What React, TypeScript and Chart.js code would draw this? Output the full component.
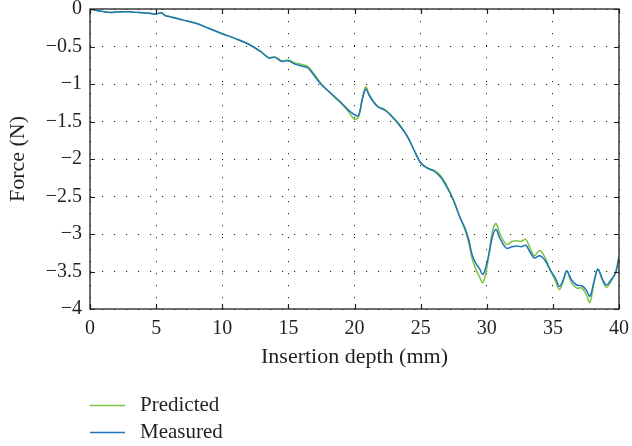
import React, { useEffect, useRef } from "react";
import { Chart, registerables } from "chart.js";

Chart.register(...registerables);

const depth = [
  0, 0.5, 1, 1.5, 2, 2.5, 3, 3.5, 4, 4.5, 5, 5.4, 5.7, 6, 7, 8, 9, 10, 11, 12, 13, 13.5, 14, 14.5, 15, 15.5,
  16, 16.5, 17, 17.5, 18, 18.5, 19, 19.5, 20, 20.3, 20.6, 20.85, 21.1, 21.4, 21.8, 22.3, 22.8, 23.4, 24, 24.5,
  25, 25.5, 26, 26.5, 27, 27.5, 28, 28.3, 28.6, 28.9, 29.2, 29.45, 29.7, 29.95, 30.2, 30.45, 30.7, 31, 31.5,
  31.9, 32.3, 32.6, 32.95, 33.3, 33.6, 34, 34.4, 34.8, 35.2, 35.5, 35.8, 36.05, 36.4, 36.8, 37.2, 37.5, 37.8,
  38.1, 38.4, 38.75, 39.05, 39.4, 39.75, 40,
];

const measured = [
  0, -0.02, -0.035, -0.045, -0.04, -0.037, -0.038, -0.045, -0.05, -0.058, -0.068, -0.05, -0.09, -0.1, -0.145,
  -0.19, -0.26, -0.33, -0.395, -0.47, -0.58, -0.65, -0.645, -0.7, -0.69, -0.735, -0.76, -0.79, -0.9, -1.01,
  -1.09, -1.17, -1.25, -1.34, -1.41, -1.42, -1.2, -1.07, -1.15, -1.23, -1.31, -1.35, -1.43, -1.55, -1.7, -1.88,
  -2.05, -2.12, -2.16, -2.24, -2.38, -2.56, -2.79, -2.9, -3.05, -3.28, -3.4, -3.46, -3.54, -3.43, -3.24, -3.02,
  -2.94, -3.06, -3.19, -3.17, -3.16, -3.17, -3.15, -3.25, -3.32, -3.29, -3.35, -3.48, -3.59, -3.7, -3.6, -3.49,
  -3.61, -3.68, -3.69, -3.74, -3.83, -3.64, -3.47, -3.6, -3.68, -3.61, -3.52, -3.32,
];

const predicted = [
  0, -0.02, -0.035, -0.045, -0.04, -0.037, -0.038, -0.045, -0.05, -0.058, -0.068, -0.05, -0.09, -0.1, -0.145,
  -0.19, -0.26, -0.33, -0.395, -0.47, -0.58, -0.65, -0.64, -0.69, -0.68, -0.72, -0.74, -0.77, -0.88, -1.0,
  -1.09, -1.18, -1.26, -1.36, -1.47, -1.44, -1.18, -1.04, -1.13, -1.22, -1.3, -1.34, -1.42, -1.54, -1.7, -1.88,
  -2.05, -2.12, -2.15, -2.22, -2.36, -2.55, -2.79, -2.92, -3.09, -3.33, -3.48, -3.57, -3.65, -3.5, -3.22, -2.95,
  -2.86, -3.0, -3.14, -3.1, -3.09, -3.1, -3.07, -3.2, -3.29, -3.22, -3.31, -3.48, -3.63, -3.74, -3.62, -3.49,
  -3.65, -3.72, -3.72, -3.8, -3.91, -3.66, -3.47, -3.62, -3.71, -3.63, -3.5, -3.29,
];

const xTitle = "Insertion depth (mm)";
const yTitle = "Force (N)";
const seriesNames = ["Predicted", "Measured"];
const seriesColors = ["#7cc242", "#1c75bc"];

const FONT = "'Liberation Serif', 'Times New Roman', serif";
const TEXT = "#231f20";

const framePlugin = {
  id: "frame",
  afterDatasetsDraw(chart: any) {
    const { ctx, chartArea: a, scales } = chart;
    ctx.save();
    ctx.strokeStyle = "#231f20";
    ctx.lineWidth = 1.3;
    ctx.strokeRect(a.left, a.top, a.right - a.left, a.bottom - a.top);
    ctx.lineWidth = 1.2;
    const L = 5;
    ctx.beginPath();
    scales.x.ticks.forEach((t: any) => {
      const px = Math.round(scales.x.getPixelForValue(t.value)) + 0.5;
      ctx.moveTo(px, a.bottom);
      ctx.lineTo(px, a.bottom - L);
      ctx.moveTo(px, a.top);
      ctx.lineTo(px, a.top + L);
    });
    scales.y.ticks.forEach((t: any) => {
      const py = Math.round(scales.y.getPixelForValue(t.value)) + 0.5;
      ctx.moveTo(a.left, py);
      ctx.lineTo(a.left + L, py);
      ctx.moveTo(a.right, py);
      ctx.lineTo(a.right - L, py);
    });
    ctx.stroke();
    ctx.restore();
  },
};

const legendPlugin = {
  id: "customLegend",
  afterDraw(chart: any) {
    const { ctx } = chart;
    ctx.save();
    chart.data.datasets.forEach((ds: any, i: number) => {
      const y = 405 + i * 27;
      ctx.strokeStyle = ds.borderColor;
      ctx.lineWidth = 1.5;
      ctx.beginPath();
      ctx.moveTo(90, y + 0.5);
      ctx.lineTo(125, y + 0.5);
      ctx.stroke();
      ctx.fillStyle = TEXT;
      ctx.font = `21px ${FONT}`;
      ctx.textBaseline = "middle";
      ctx.textAlign = "left";
      ctx.fillText(ds.label, 140, y);
    });
    ctx.restore();
  },
};

export default function App() {
  const ref = useRef<HTMLCanvasElement | null>(null);

  useEffect(() => {
    document.body.style.margin = "0";
    const canvas = ref.current;
    if (!canvas) return;
    const mk = (vals: number[]) => depth.map((x, i) => ({ x, y: vals[i] }));
    const chart = new Chart(canvas, {
      type: "line",
      data: {
        datasets: [
          {
            label: seriesNames[0],
            data: mk(predicted),
            borderColor: seriesColors[0],
            borderWidth: 1.5,
            pointRadius: 0,
            tension: 0.35,
            fill: false,
            order: 1,
          },
          {
            label: seriesNames[1],
            data: mk(measured),
            borderColor: seriesColors[1],
            borderWidth: 1.5,
            pointRadius: 0,
            tension: 0.35,
            fill: false,
            order: 0,
          },
        ],
      },
      options: {
        animation: false,
        responsive: false,
        devicePixelRatio: 1,
        layout: { padding: { top: 9, right: 13, left: 0, bottom: 0 } },
        plugins: {
          legend: { display: false },
          tooltip: { enabled: false },
        },
        scales: {
          x: {
            type: "linear",
            min: 0,
            max: 40,
            afterFit: (s: any) => {
              s.height = 137;
              s.paddingLeft = 0;
              s.paddingRight = 0;
            },
            ticks: {
              stepSize: 5,
              padding: 8,
              color: TEXT,
              font: { family: FONT, size: 20 },
            },
            grid: {
              color: "#222",
              lineWidth: 1,
              drawTicks: false,
            },
            border: { display: false, dash: [1.2, 10.8] },
            title: {
              display: true,
              text: xTitle,
              color: TEXT,
              font: { family: FONT, size: 22 },
              padding: { top: 0, bottom: 76 },
            },
          },
          y: {
            type: "linear",
            min: -4,
            max: 0,
            afterFit: (s: any) => {
              s.width = 90;
              s.paddingTop = 0;
              s.paddingBottom = 0;
            },
            ticks: {
              stepSize: 0.5,
              padding: 8,
              color: TEXT,
              font: { family: FONT, size: 20 },
              callback: (v: any) => (Number(v) === 0 ? "0" : "\u2212" + Math.abs(Number(v))),
            },
            grid: {
              color: "#222",
              lineWidth: 1,
              drawTicks: false,
            },
            border: { display: false, dash: [1.2, 10.8] },
            title: {
              display: true,
              text: yTitle,
              color: TEXT,
              font: { family: FONT, size: 22 },
              padding: { top: 5, bottom: 0 },
            },
          },
        },
      },
      plugins: [framePlugin, legendPlugin],
    });
    return () => chart.destroy();
  }, []);

  return <canvas ref={ref} width={632} height={446} style={{ display: "block" }} />;
}
